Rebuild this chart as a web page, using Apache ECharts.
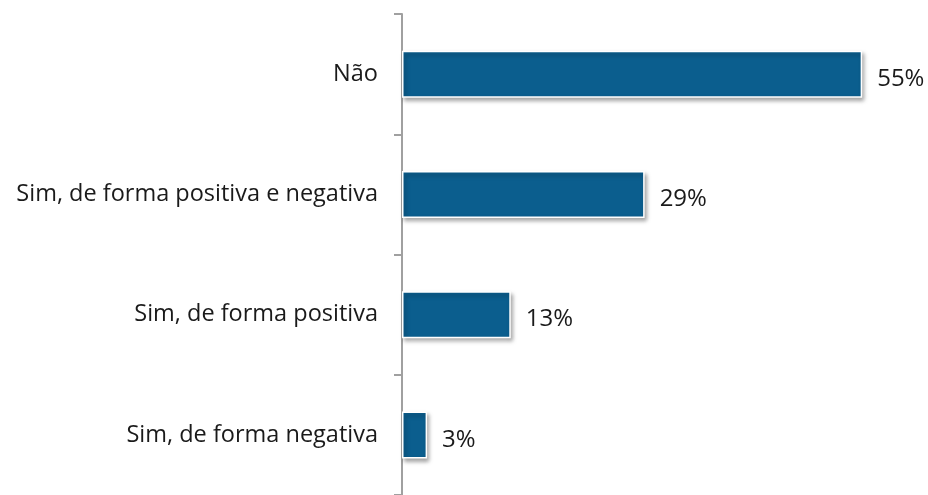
<!DOCTYPE html>
<html>
<head>
<meta charset="utf-8">
<script src="https://cdn.jsdelivr.net/npm/echarts@6/dist/echarts.min.js"></script>
<style>
  html, body { margin: 0; padding: 0; background: #fff; }
  #chart { width: 928px; height: 495px; }
</style>
</head>
<body>
<div id="chart"></div>
<script>
// categorias de cima para baixo
var categories = ['Não', 'Sim, de forma positiva e negativa', 'Sim, de forma positiva', 'Sim, de forma negativa'];
var values = [55, 29, 13, 3];

var myChart = echarts.init(document.getElementById('chart'));

var option = {
  animation: false,
  grid: {
    left: 402,
    top: 14,
    width: 502,
    height: 485
  },
  xAxis: {
    type: 'value',
    min: 0,
    max: 60,
    show: false
  },
  yAxis: {
    type: 'category',
    inverse: true,
    data: categories,
    axisLine: {
      show: true,
      lineStyle: { color: '#a0a0a0', width: 2 }
    },
    axisTick: {
      show: true,
      length: 8,
      lineStyle: { color: '#a0a0a0', width: 2 }
    },
    axisLabel: {
      color: '#1a1a1a',
      fontFamily: 'Open Sans',
      fontSize: 23.5,
      margin: 24
    },
    splitLine: { show: false }
  },
  series: [
    {
      type: 'bar',
      data: values,
      barWidth: 47,
      itemStyle: {
        color: '#0b5e8e',
        borderColor: '#ffffff',
        borderWidth: 1.5,
        shadowColor: 'rgba(0,0,0,0.35)',
        shadowBlur: 4,
        shadowOffsetX: 2,
        shadowOffsetY: 3
      },
      label: {
        show: true,
        position: 'right',
        distance: 15,
        offset: [0, 5],
        formatter: '{c}%',
        color: '#1a1a1a',
        fontFamily: 'Open Sans',
        fontSize: 24
      }
    }
  ]
};

option && myChart.setOption(option);
</script>
</body>
</html>
